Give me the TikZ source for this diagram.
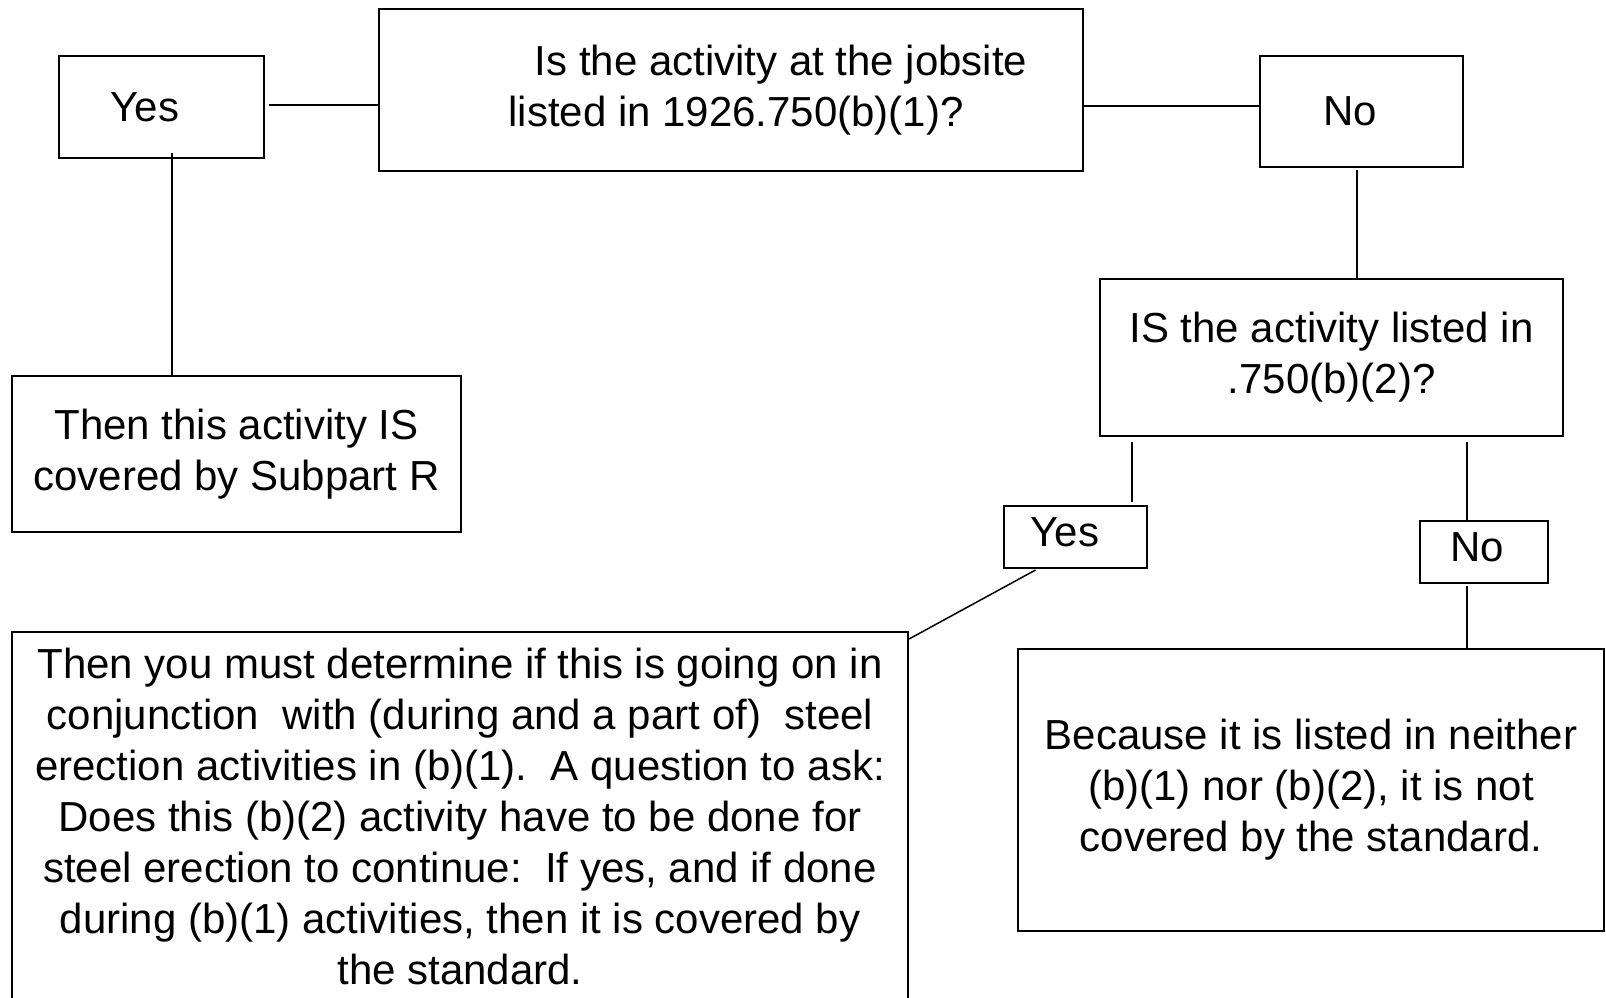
\documentclass[tikz,border=0pt]{standalone}
\usepackage{fontspec}
\setmainfont{Liberation Sans}
\usepackage{tikz}

\begin{document}
\begin{tikzpicture}[x=1pt,y=-1pt,
  box/.style={draw,line width=2pt,inner sep=0pt,align=center,font=\fontsize{42}{51}\selectfont},
  link/.style={line width=2pt}]
\useasboundingbox (0,0) rectangle (1606,998);
\node[box,minimum width=704pt,minimum height=162pt] (q1) at (731,90) {\hspace*{100pt}Is the activity at the jobsite\\\hspace*{10pt}listed in 1926.750(b)(1)?};
\node[box,minimum width=205pt,minimum height=102pt] (yes1) at (161.5,107) {Yes\hspace*{33pt}};
\node[box,minimum width=203pt,minimum height=111pt] (no1) at (1361.5,111.5) {No\hspace*{23pt}};
\node[box,minimum width=449pt,minimum height=156pt] (covR) at (236.5,454) {Then this activity IS\\covered by Subpart R};
\node[box,minimum width=463pt,minimum height=157pt] (q2) at (1331.5,357.5) {IS the activity listed in\\.750(b)(2)?};
\node[box,minimum width=143pt,minimum height=62pt] (yes2) at (1075.5,537) {\raisebox{5pt}[\height][\depth]{Yes}\hspace*{21pt}};
\node[box,minimum width=128pt,minimum height=62pt] (no2) at (1484,552) {\raisebox{5pt}[\height][\depth]{No}\hspace*{14pt}};
\node[box,minimum width=896pt,minimum height=368pt] (during) at (460,816) {Then you must determine if this is going on in\\conjunction\ \ with (during and a part of)\ \ steel\\erection activities in (b)(1).\ \ A question to ask:\\Does this (b)(2) activity have to be done for\\steel erection to continue:\ \ If yes, and if done\\during (b)(1) activities, then it is covered by\\the standard.};
\node[box,minimum width=586pt,minimum height=282pt] (notcov) at (1311,790) {Because it is listed in neither\\(b)(1) nor (b)(2), it is not\\covered by the standard.};
\draw[link] ([shift={(4,-2)}]yes1.east) coordinate (a) -- (a -| q1.west);
\draw[link] ([shift={(0,-6)}]no1.west) coordinate (b) -- (b -| q1.east);
\draw[link] ([shift={(-5,2)}]no1.south) coordinate (c) -- (c |- q2.north);
\draw[link] ([shift={(10,-6)}]yes1.south) coordinate (d) -- (d |- covR.north);
\draw[link,shorten >=3pt] ([shift={(-200,5)}]q2.south) coordinate (e) -- (e |- yes2.north);
\draw[link] ([shift={(135.5,5)}]q2.south) coordinate (f) -- (f |- no2.north);
\draw[link] ([shift={(-17,2)}]no2.south) coordinate (g) -- (g |- notcov.north);
\draw[line width=1.5pt] ([shift={(-40,1)}]yes2.south) -- ([shift={(0,8)}]during.north east);
\end{tikzpicture}
\end{document}
